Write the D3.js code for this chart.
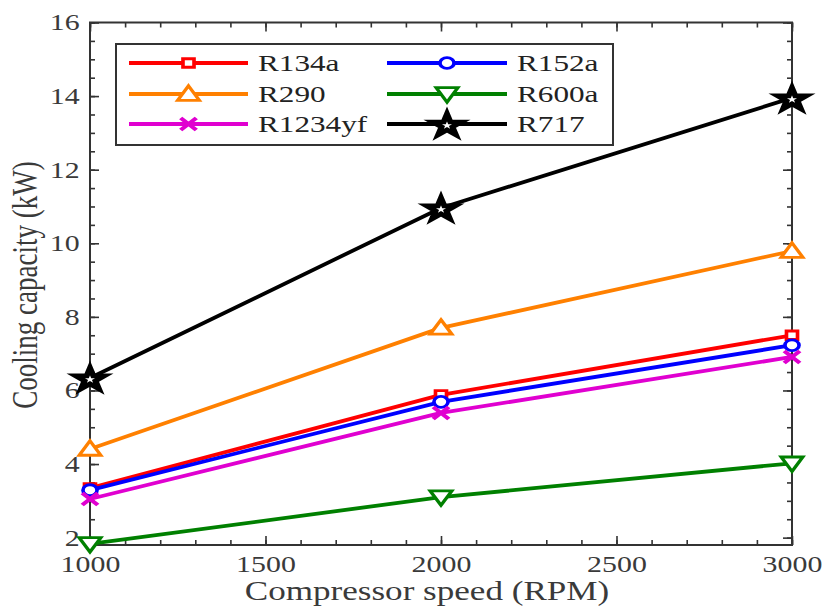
<!DOCTYPE html>
<html>
<head>
<meta charset="utf-8">
<script src="https://cdn.jsdelivr.net/npm/d3@7"></script>
<style>
  html, body { margin: 0; padding: 0; background: #fff; }
  svg { display: block; font-family: "Liberation Serif", "Times New Roman", serif; }
</style>
</head>
<body>
<svg id="chart" width="824" height="610"></svg>
<script>
// Compressor speed (RPM)
const speeds = [1000, 2000, 3000];

// Cooling capacity (kW) per refrigerant
const r134a   = [3.35, 5.88, 7.50];
const r152a   = [3.29, 5.69, 7.23];
const r290    = [4.41, 7.70, 9.79];
const r600a   = [1.83, 3.10, 4.02];
const r1234yf = [3.05, 5.39, 6.91];
const r717    = [6.34, 10.96, 13.95];

const seriesNames = ["R134a", "R152a", "R290", "R600a", "R1234yf", "R717"];
const xMajorTicks = [1000, 1500, 2000, 2500, 3000];
const yMajorTicks = [2, 4, 6, 8, 10, 12, 14, 16];

const series = [
  { name: "R134a",   values: r134a,   color: "#ff0000", marker: "square" },
  { name: "R152a",   values: r152a,   color: "#0000ff", marker: "circle" },
  { name: "R290",    values: r290,    color: "#ff8000", marker: "triangle" },
  { name: "R600a",   values: r600a,   color: "#008000", marker: "triangleDown" },
  { name: "R1234yf", values: r1234yf, color: "#e000d0", marker: "cross" },
  { name: "R717",    values: r717,    color: "#000000", marker: "star" }
];

const stretch = 1.3;           // horizontal widening of glyphs and markers
const axisColor = "#333";
const textColor = "#3a3a3a";
const plotLeft = 90, plotRight = 792, plotTop = 22.5, plotBottom = 545;

const svg = d3.select("#chart");

const x = d3.scaleLinear().domain([1000, 3000]).range([plotLeft, plotRight]);
const y = d3.scaleLinear().domain([1.8, 16]).range([plotBottom, plotTop]);

const xMinor = d3.range(1000, 3001, 100);
const yMinor = d3.range(2, 16.01, 0.5);

// ---- axes: box with inward ticks on all four sides ----
function styleAxis(g) {
  g.select(".domain").remove();
  g.selectAll(".tick line").attr("stroke", axisColor).attr("stroke-width", 1.6);
}

// minor ticks
svg.append("g").attr("transform", `translate(0,${plotBottom})`)
  .call(d3.axisBottom(x).tickValues(xMinor).tickSize(-5).tickFormat(""))
  .call(styleAxis);
svg.append("g").attr("transform", `translate(0,${plotTop})`)
  .call(d3.axisTop(x).tickValues(xMinor).tickSize(-5).tickFormat(""))
  .call(styleAxis);
svg.append("g").attr("transform", `translate(${plotLeft},0)`)
  .call(d3.axisLeft(y).tickValues(yMinor).tickSize(-5).tickFormat(""))
  .call(styleAxis);
svg.append("g").attr("transform", `translate(${plotRight},0)`)
  .call(d3.axisRight(y).tickValues(yMinor).tickSize(-5).tickFormat(""))
  .call(styleAxis);

// major ticks with labels
const xAxis = svg.append("g").attr("transform", `translate(0,${plotBottom})`)
  .call(d3.axisBottom(x).tickValues(xMajorTicks).tickSize(-9).tickPadding(11).tickFormat(d3.format("d")))
  .call(styleAxis);
const yAxis = svg.append("g").attr("transform", `translate(${plotLeft},0)`)
  .call(d3.axisLeft(y).tickValues(yMajorTicks).tickSize(-9).tickPadding(8).tickFormat(d3.format("d")))
  .call(styleAxis);
svg.append("g").attr("transform", `translate(0,${plotTop})`)
  .call(d3.axisTop(x).tickValues(xMajorTicks).tickSize(-9).tickFormat(""))
  .call(styleAxis);
svg.append("g").attr("transform", `translate(${plotRight},0)`)
  .call(d3.axisRight(y).tickValues(yMajorTicks).tickSize(-9).tickFormat(""))
  .call(styleAxis);

[xAxis, yAxis].forEach(a => {
  a.attr("font-family", "'Liberation Serif', serif");
  a.selectAll(".tick text")
    .attr("fill", textColor)
    .style("font-size", "23px")
    .attr("transform", `scale(${stretch},1)`);
});

// frame
svg.append("rect")
  .attr("x", plotLeft).attr("y", plotTop)
  .attr("width", plotRight - plotLeft).attr("height", plotBottom - plotTop)
  .attr("fill", "none").attr("stroke", axisColor).attr("stroke-width", 2);

// ---- marker shapes ----
function markerPath(kind) {
  switch (kind) {
    case "square": return d3.symbol(d3.symbolSquare, 72)();
    case "circle": return d3.symbol(d3.symbolCircle, 92)();
    case "triangle": return d3.symbol(d3.symbolTriangle, 120)();
    case "triangleDown": return d3.symbol(d3.symbolTriangle, 120)();
    case "star": return d3.symbol(d3.symbolStar, 150)();
    case "cross": {
      const s = 6;
      return `M${-s},${-s}L${s},${s}M${-s},${s}L${s},${-s}`;
    }
  }
}
function markerTransform(kind, px, py) {
  let t = `translate(${px},${py}) scale(${stretch},1)`;
  if (kind === "triangle") t += " translate(0,1.5)";
  if (kind === "triangleDown") t += " rotate(180) translate(0,1.5)";
  if (kind === "star") t += " translate(0,1.5)";
  return t;
}
function drawMarker(g, s, px, py) {
  const widths = { cross: 3.5, star: 4.6 };
  g.append("path")
    .attr("d", markerPath(s.marker))
    .attr("transform", markerTransform(s.marker, px, py))
    .attr("fill", s.marker === "cross" ? "none" : "#fff")
    .attr("stroke", s.color)
    .attr("stroke-width", widths[s.marker] || 2.8)
    .attr("stroke-linejoin", "miter");
}

// ---- series lines and markers ----
const line = d3.line().x(d => x(d[0])).y(d => y(d[1]));
const plot = svg.append("g");
series.forEach(s => {
  const pts = speeds.map((v, i) => [v, s.values[i]]);
  const g = plot.append("g");
  g.append("path").datum(pts)
    .attr("d", line)
    .attr("fill", "none")
    .attr("stroke", s.color)
    .attr("stroke-width", 3.8)
    .attr("stroke-linejoin", "round");
  pts.forEach(p => drawMarker(g, s, x(p[0]), y(p[1])));
});

// ---- legend ----
const legend = svg.append("g");
legend.append("rect")
  .attr("x", 116).attr("y", 44).attr("width", 497).attr("height", 101)
  .attr("fill", "#fff").attr("stroke", axisColor).attr("stroke-width", 2);
const rowY = [63, 94, 124];
const colX = [{ x0: 129, x1: 248, tx: 258 }, { x0: 387, x1: 507, tx: 517 }];
series.forEach((s, i) => {
  const r = Math.floor(i / 2), c = i % 2;
  const cy = rowY[r], col = colX[c];
  const g = legend.append("g");
  g.append("line")
    .attr("x1", col.x0).attr("x2", col.x1).attr("y1", cy).attr("y2", cy)
    .attr("stroke", s.color).attr("stroke-width", 3.8);
  drawMarker(g, s, (col.x0 + col.x1) / 2, cy);
  g.append("text")
    .attr("transform", `translate(${col.tx},${cy}) scale(${stretch},1)`)
    .attr("dy", "0.35em")
    .attr("fill", "#222")
    .style("font-size", "24px")
    .text(seriesNames[i]);
});

// ---- axis titles ----
svg.append("text")
  .attr("transform", `translate(${(plotLeft + plotRight) / 2 - 14},${600}) scale(${stretch},1)`)
  .attr("text-anchor", "middle")
  .attr("fill", textColor)
  .style("font-size", "27px")
  .text("Compressor speed (RPM)");

svg.append("text")
  .attr("transform", `translate(37,285) scale(${stretch},1) rotate(-90)`)
  .attr("text-anchor", "middle")
  .attr("fill", textColor)
  .style("font-size", "27px")
  .text("Cooling capacity (kW)");
</script>
</body>
</html>
